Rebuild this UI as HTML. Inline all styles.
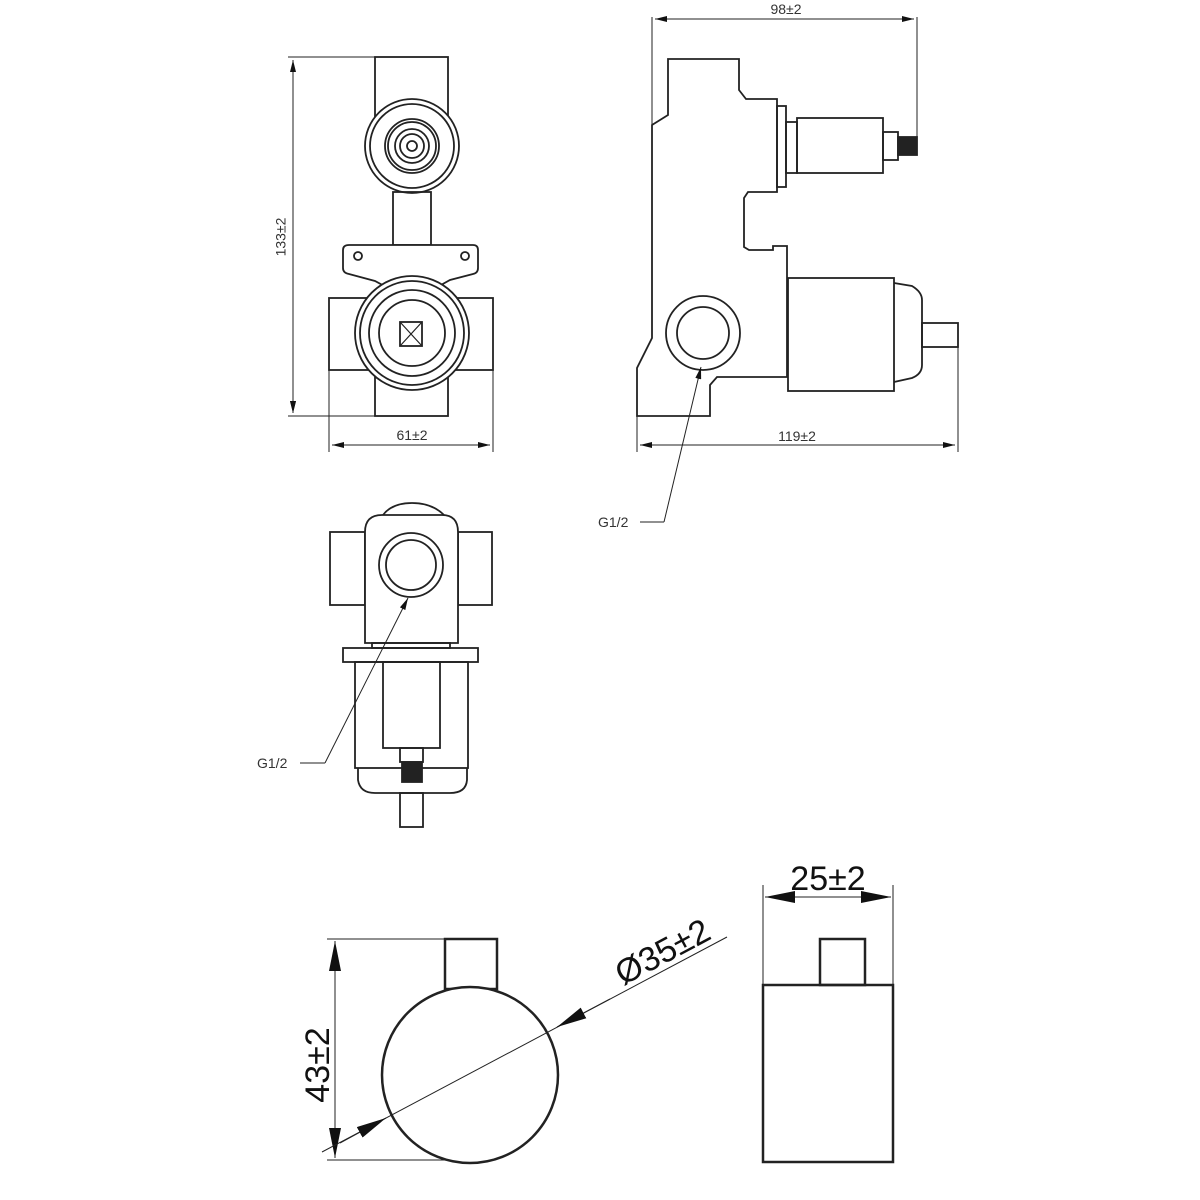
<!DOCTYPE html>
<html><head><meta charset="utf-8"><style>html,body{margin:0;padding:0;background:#fff}svg{display:block}</style></head>
<body>
<svg width="1200" height="1200" viewBox="0 0 1200 1200" xmlns="http://www.w3.org/2000/svg" font-family="Liberation Sans, sans-serif">
<defs>
<marker id="a" markerWidth="12" markerHeight="6" refX="12" refY="3" orient="auto" markerUnits="userSpaceOnUse"><path d="M0,0 L12,3 L0,6 z" fill="#111"/></marker>
<marker id="b" markerWidth="30" markerHeight="12" refX="30" refY="6" orient="auto" markerUnits="userSpaceOnUse"><path d="M0,0 L30,6 L0,12 z" fill="#111"/></marker>
</defs>
<g fill="none" stroke="#222" stroke-width="1.8">
<!-- View 1 -->
<line x1="288" y1="57" x2="375" y2="57" stroke-width="1"/>
<line x1="288" y1="416" x2="375" y2="416" stroke-width="1"/>
<line x1="293" y1="60" x2="293" y2="413" stroke-width="1" marker-start="url(#a)" marker-end="url(#a)" style="marker-start:none"/>
<line x1="293" y1="230" x2="293" y2="60" stroke-width="1" marker-end="url(#a)"/>
<rect x="375" y="57" width="73" height="60"/>
<circle cx="412" cy="146" r="47" fill="#fff"/>
<circle cx="412" cy="146" r="42"/>
<circle cx="412" cy="146" r="27"/>
<circle cx="412" cy="146" r="24"/>
<circle cx="412" cy="146" r="17"/>
<circle cx="412" cy="146" r="12"/>
<circle cx="412" cy="146" r="5"/>
<rect x="393" y="192" width="38" height="53"/>
<path d="M349,245 L473,245 Q478,245 478,250 L478,268 Q478,273 473,274 L450,280 L432,290 L392,290 L375,281 L349,274 Q343,273 343,268 L343,250 Q343,245 349,245 Z" fill="#fff"/>
<circle cx="358" cy="256" r="4"/>
<circle cx="465" cy="256" r="4"/>
<rect x="329" y="298" width="164" height="72" fill="#fff"/>
<rect x="375" y="370" width="73" height="46"/>
<circle cx="412" cy="333" r="57" fill="#fff"/>
<circle cx="412" cy="333" r="52"/>
<circle cx="412" cy="333" r="43"/>
<circle cx="412" cy="333" r="33"/>
<rect x="400" y="322" width="22" height="24"/>
<path d="M400,322 L422,346 M422,322 L400,346" stroke-width="1.2"/>
<line x1="329" y1="370" x2="329" y2="452" stroke-width="1"/>
<line x1="493" y1="370" x2="493" y2="452" stroke-width="1"/>

<!-- View 2 -->
<line x1="652" y1="17" x2="652" y2="125" stroke-width="1"/>
<line x1="917" y1="17" x2="917" y2="137" stroke-width="1"/>
<path d="M668,59 L739,59 L739,90 L746,99 L777,99 L777,192 L748,192 L744,198 L744,247 L749,250 L773,250 L773,246 L787,246 L787,278 L787,377 L717,377 L710,385 L710,416 L637,416 L637,368 L652,338 L652,125 L668,115 Z"/>
<rect x="777" y="106" width="9" height="81"/>
<rect x="786" y="122" width="11" height="51"/>
<rect x="797" y="118" width="86" height="55"/>
<rect x="883" y="132" width="15" height="28"/>
<rect x="898" y="137" width="19" height="18" fill="#222"/>
<rect x="788" y="278" width="106" height="113"/>
<path d="M894,283 L912,286 Q922,292 922,300 L922,365 Q922,374 912,378 L894,382"/>
<rect x="922" y="323" width="36" height="24"/>
<line x1="958" y1="347" x2="958" y2="452" stroke-width="1"/>
<line x1="637" y1="416" x2="637" y2="452" stroke-width="1"/>
<circle cx="703" cy="333" r="37"/>
<circle cx="703" cy="333" r="26"/>

<!-- View 3 -->
<path d="M383,515 Q392,503 412,503 Q432,503 444,515" />
<rect x="330" y="532" width="35" height="73"/>
<rect x="458" y="532" width="34" height="73"/>
<path d="M365,643 L365,532 Q365,515 382,515 L442,515 Q458,515 458,532 L458,643 Z" fill="#fff"/>
<circle cx="411" cy="565" r="32"/>
<circle cx="411" cy="565" r="25"/>
<rect x="372" y="643" width="78" height="5"/>
<rect x="343" y="648" width="135" height="14"/>
<rect x="355" y="662" width="113" height="106"/>
<rect x="383" y="662" width="57" height="86"/>
<rect x="400" y="748" width="23" height="14"/>
<rect x="402" y="762" width="20" height="20" fill="#222"/>
<path d="M358,768 L358,780 Q360,793 375,793 L450,793 Q466,793 467,780 L467,768"/>
<rect x="400" y="793" width="23" height="34"/>

<!-- View 4 -->
<rect x="445" y="939" width="52" height="50" fill="#fff" stroke-width="2.5"/>
<circle cx="470" cy="1075" r="88" fill="#fff" stroke-width="2.5"/>
<rect x="763" y="985" width="130" height="177" stroke-width="2.5"/>
<rect x="820" y="939" width="45" height="46" stroke-width="2.5"/>
</g>

<!-- dimension lines and leaders -->
<g stroke="#222" stroke-width="1" fill="none">
<line x1="293" y1="230" x2="293" y2="413" marker-end="url(#a)"/>
<line x1="412" y1="445" x2="332" y2="445" marker-end="url(#a)"/>
<line x1="412" y1="445" x2="490" y2="445" marker-end="url(#a)"/>
<line x1="785" y1="19" x2="655" y2="19" marker-end="url(#a)"/>
<line x1="785" y1="19" x2="914" y2="19" marker-end="url(#a)"/>
<line x1="797" y1="445" x2="640" y2="445" marker-end="url(#a)"/>
<line x1="797" y1="445" x2="955" y2="445" marker-end="url(#a)"/>
<line x1="664" y1="522" x2="701" y2="367" marker-end="url(#a)"/>
<line x1="640" y1="522" x2="664" y2="522"/>
<line x1="325" y1="763" x2="408" y2="598" marker-end="url(#a)"/>
<line x1="300" y1="763" x2="325" y2="763"/>
<!-- view 4 dims -->
<line x1="327" y1="939" x2="445" y2="939"/>
<line x1="327" y1="1160" x2="445" y2="1160"/>
<line x1="335" y1="1050" x2="335" y2="941" marker-end="url(#b)"/>
<line x1="335" y1="1050" x2="335" y2="1158" marker-end="url(#b)"/>
<line x1="322" y1="1152" x2="727" y2="937"/>
<line x1="340" y1="1143" x2="386" y2="1118" marker-end="url(#b)"/>
<line x1="610" y1="999" x2="557" y2="1027" marker-end="url(#b)"/>
<line x1="763" y1="885" x2="763" y2="985"/>
<line x1="893" y1="885" x2="893" y2="985"/>
<line x1="800" y1="897" x2="856" y2="897"/>
<line x1="805" y1="897" x2="765" y2="897" marker-end="url(#b)"/>
<line x1="850" y1="897" x2="891" y2="897" marker-end="url(#b)"/>
</g>

<g fill="#333" font-size="14">
<text x="282" y="237" text-anchor="middle" transform="rotate(-90 282 237)" dominant-baseline="middle">133±2</text>
<text x="412" y="440" text-anchor="middle">61±2</text>
<text x="786" y="14" text-anchor="middle">98±2</text>
<text x="797" y="441" text-anchor="middle">119±2</text>
<text x="598" y="527">G1/2</text>
<text x="257" y="768">G1/2</text>
</g>
<g fill="#111" font-size="34">
<text x="320" y="1065" text-anchor="middle" transform="rotate(-90 320 1065)" dominant-baseline="middle">43±2</text>
<text x="668" y="962" text-anchor="middle" transform="rotate(-28 668 962)">Ø35±2</text>
<text x="828" y="890" text-anchor="middle">25±2</text>
</g>
</svg>
</body></html>
